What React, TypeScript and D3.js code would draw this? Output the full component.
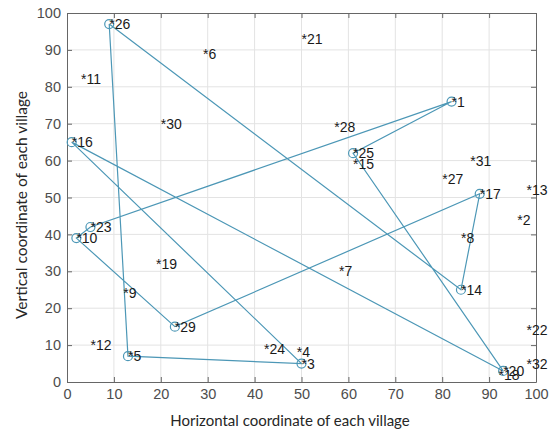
import React, { useEffect, useRef } from "react";
import * as d3 from "d3";

// village coordinates (index i -> village i+1)
const villageX = [82, 96, 50, 49, 13, 29, 58, 84, 12, 2, 3, 5, 98, 84, 61, 1, 88, 92, 19, 93, 50, 98, 5, 42, 61, 9, 80, 57, 23, 20, 86, 98];
const villageY = [76, 44, 5, 8, 7, 89, 30, 39, 24, 39, 82, 10, 52, 25, 59, 65, 51, 2, 32, 3, 93, 14, 42, 9, 62, 97, 55, 69, 15, 70, 60, 5];
// visiting order of the drawn tour (closed loop)
const route = [26, 5, 3, 16, 20, 25, 1, 23, 10, 29, 17, 14, 26];
const xTicks = [0, 10, 20, 30, 40, 50, 60, 70, 80, 90, 100];
const yTicks = [0, 10, 20, 30, 40, 50, 60, 70, 80, 90, 100];

export default function App() {
  const ref = useRef<SVGSVGElement>(null);

  useEffect(() => {
    const svg = d3.select(ref.current);
    svg.selectAll("*").remove();

    const left = 67, right = 536, top = 13, bottom = 382;
    const x = d3.scaleLinear().domain([0, 100]).range([left, right]);
    const y = d3.scaleLinear().domain([0, 100]).range([bottom, top]);
    const lineColor = "#4c97b6";
    const axisColor = "#666";

    // grid
    const grid = svg.append("g");
    grid.selectAll(".gx").data(xTicks.slice(1, -1)).join("line")
      .attr("x1", d => x(d)).attr("x2", d => x(d)).attr("y1", top).attr("y2", bottom)
      .attr("stroke", "#e3e3e3").attr("stroke-width", 1);
    grid.selectAll(".gy").data(yTicks.slice(1, -1)).join("line")
      .attr("y1", d => y(d)).attr("y2", d => y(d)).attr("x1", left).attr("x2", right)
      .attr("stroke", "#e3e3e3").attr("stroke-width", 1);

    // axes (inward ticks, box on all four sides)
    const fontTicks = "'Liberation Sans', Arial, sans-serif";
    const bx = svg.append("g").attr("transform", `translate(0,${bottom})`)
      .call(d3.axisBottom(x).tickValues(xTicks).tickSizeInner(-5).tickSizeOuter(0).tickPadding(7));
    const tx = svg.append("g").attr("transform", `translate(0,${top})`)
      .call(d3.axisTop(x).tickValues(xTicks).tickSizeInner(-5).tickSizeOuter(0).tickFormat(() => ""));
    const ly = svg.append("g").attr("transform", `translate(${left},0)`)
      .call(d3.axisLeft(y).tickValues(yTicks).tickSizeInner(-5).tickSizeOuter(0).tickPadding(6));
    const ry = svg.append("g").attr("transform", `translate(${right},0)`)
      .call(d3.axisRight(y).tickValues(yTicks).tickSizeInner(-5).tickSizeOuter(0).tickFormat(() => ""));
    [bx, tx, ly, ry].forEach(g => {
      g.select(".domain").attr("stroke", axisColor);
      g.selectAll(".tick line").attr("stroke", axisColor);
      g.selectAll(".tick text").attr("fill", "#4d4d4d").attr("font-size", 14.5).attr("font-family", fontTicks);
    });

    // tour
    const pts = route.map(i => [villageX[i - 1], villageY[i - 1]] as [number, number]);
    svg.append("path")
      .attr("d", d3.line().x(d => x(d[0])).y(d => y(d[1]))(pts))
      .attr("fill", "none").attr("stroke", lineColor).attr("stroke-width", 1.2);
    svg.selectAll(".stop").data(route.slice(0, -1)).join("circle")
      .attr("cx", d => x(villageX[d - 1])).attr("cy", d => y(villageY[d - 1]))
      .attr("r", 4.5).attr("fill", "none").attr("stroke", lineColor).attr("stroke-width", 1.2);

    // village labels
    svg.selectAll(".lbl").data(villageX.map((_, i) => i)).join("text")
      .attr("x", i => x(villageX[i])).attr("y", i => y(villageY[i]))
      .attr("dominant-baseline", "central")
      .attr("font-family", fontTicks).attr("font-size", 14).attr("fill", "#1a1a1a")
      .text(i => "*" + (i + 1));

    // axis titles
    const fontTitle = "Lato, 'Open Sans', sans-serif";
    svg.append("text").attr("x", 290).attr("y", 426)
      .attr("text-anchor", "middle").attr("font-family", fontTitle).attr("font-size", 15)
      .attr("fill", "#262626").text("Horizontal coordinate of each village");
    svg.append("text").attr("transform", `translate(27,205) rotate(-90)`)
      .attr("text-anchor", "middle").attr("font-family", fontTitle).attr("font-size", 15.5)
      .attr("fill", "#262626").text("Vertical coordinate of each village");
  }, []);

  return (
    <svg ref={ref} width={556} height={435}
      style={{ position: "absolute", left: 0, top: 0, background: "#fff" }} />
  );
}
